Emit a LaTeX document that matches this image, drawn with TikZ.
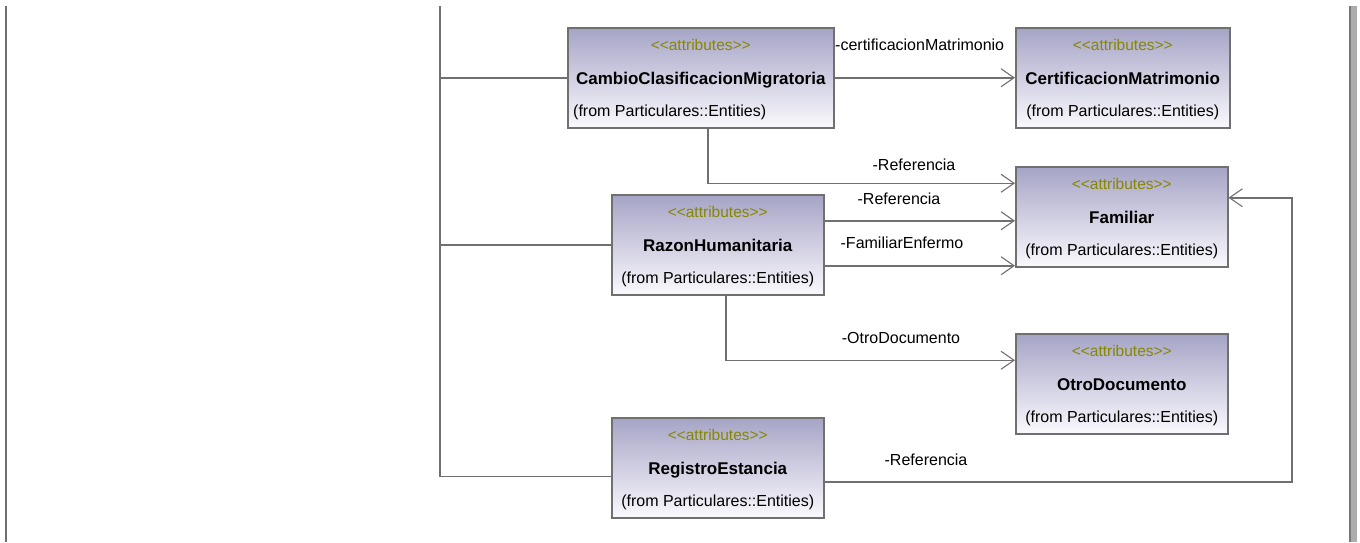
\documentclass[tikz,border=0pt]{standalone}
\usepackage{fontspec}
\setmainfont{Liberation Sans}
\usetikzlibrary{arrows.meta}

\definecolor{linegray}{RGB}{112,112,112}
\definecolor{boxtop}{RGB}{166,164,198}
\definecolor{boxbottom}{RGB}{250,249,253}
\definecolor{stereocol}{RGB}{135,135,0}
\definecolor{bargray}{RGB}{172,172,172}
\definecolor{baredge}{RGB}{120,120,120}

\tikzset{
  classbox/.style={draw=linegray, line width=1.5pt, top color=boxtop, bottom color=boxbottom,
    minimum height=100pt, inner sep=0pt, anchor=north west},
  stereo/.style={text=stereocol, font=\fontsize{15.5}{18}\selectfont, inner sep=0pt, anchor=base},
  cname/.style={font=\fontsize{17}{20}\selectfont\bfseries, inner sep=0pt, anchor=base},
  origin/.style={font=\fontsize{16}{19}\selectfont, inner sep=0pt, anchor=base},
  rolelbl/.style={font=\fontsize{16}{19}\selectfont, inner sep=0pt, anchor=base},
  link/.style={draw=linegray, line width=1.5pt},
  assoc/.style={link, -{Straight Barb[length=13pt, width=18pt, line width=1.1pt]}},
}

% kerns keep the paired angle brackets from merging into guillemets
\newcommand{\stereotext}{<\kern0pt<attributes>\kern0pt>}

% class box with stereotype and name
\newcommand{\umlclass}[5]{% name, x, y, width, title
  \node[classbox, minimum width=#4pt] (#1) at (#2,#3) {};
  \node[stereo] (#1-st) at ([yshift=-23pt]#1.north) {\stereotext};
  \node[cname] (#1-nm) at ([yshift=-57pt]#1.north) {#5};
}
% package line, centred
\newcommand{\fromline}[1]{%
  \node[origin] (#1-or) at ([yshift=-89.5pt]#1.north) {(from Particulares::Entities)};
}

\begin{document}
\begin{tikzpicture}[x=1pt, y=-1pt]
  \useasboundingbox (0,0) rectangle (1360,542);

  % frame edges
  \coordinate (lefttop) at (6,6);
  \coordinate (leftbot) at (6,542);
  \draw[link] (lefttop) -- (leftbot);
  \fill[bargray] (1349,6) rectangle (1357,542);
  \draw[baredge, line width=1.5pt] (1350,6) -- (1350,542);

  % classes
  \umlclass{ccm}{567}{27}{266}{CambioClasificacionMigratoria}
  \node[origin, anchor=base west] (ccm-or) at ([xshift=6pt, yshift=-89.5pt]ccm.north west) {(from Particulares::Entities)};
  \umlclass{cm}{1015}{27}{214}{CertificacionMatrimonio}
  \fromline{cm}
  \umlclass{fam}{1015}{166}{212}{Familiar}
  \fromline{fam}
  \umlclass{rh}{611}{194}{212}{RazonHumanitaria}
  \fromline{rh}
  \umlclass{od}{1015}{333}{212}{OtroDocumento}
  \fromline{od}
  \umlclass{re}{611}{417}{212}{RegistroEstancia}
  \fromline{re}

  % package line on the left
  \coordinate (bustop) at (440,6);
  \coordinate (busbot) at (440,476.5);
  \draw[link] (bustop) -- (busbot) -- (busbot -| re.west);
  \draw[link] (ccm.west -| bustop) -- (ccm.west);
  \draw[link] (rh.west -| bustop) -- (rh.west);

  % associations
  \draw[assoc] (ccm.east) -- (cm.west);
  \draw[assoc] ([xshift=7pt]ccm.south) |- ([yshift=33.5pt]fam.west);
  \draw[assoc] ([yshift=24pt]rh.east) -- ([yshift=24pt]rh.east -| fam.west);
  \draw[assoc] ([yshift=-21pt]rh.east) -- ([yshift=-21pt]rh.east -| fam.west);
  \draw[assoc] ([xshift=8pt]rh.south) |- ([yshift=23.5pt]od.west);
  \coordinate (bend) at (1292,482);
  \draw[assoc] (bend -| re.east) -- (bend) |- ([yshift=19pt]fam.east);

  % role names
  \node[rolelbl, anchor=base west] (l1) at (835,50) {-certificacionMatrimonio};
  \node[rolelbl] (l2) at (914,170.5) {-Referencia};
  \node[rolelbl] (l3) at (899,204) {-Referencia};
  \node[rolelbl] (l4) at (902,248.3) {-FamiliarEnfermo};
  \node[rolelbl] (l5) at (901,343.3) {-OtroDocumento};
  \node[rolelbl] (l6) at (926,465.7) {-Referencia};
\end{tikzpicture}
\end{document}
